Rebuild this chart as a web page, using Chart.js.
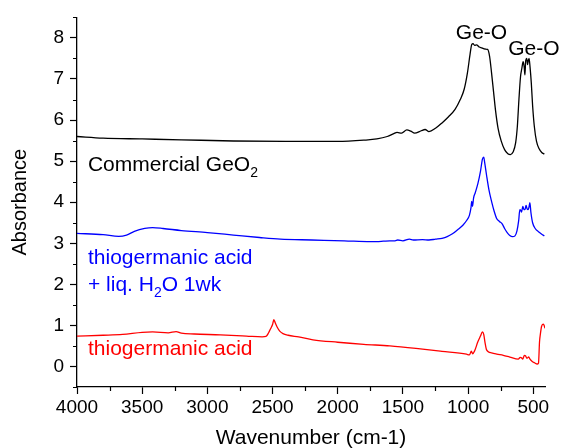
<!DOCTYPE html>
<html>
<head>
<meta charset="utf-8">
<title>FTIR spectra</title>
<script src="https://cdn.jsdelivr.net/npm/chart.js@4.4.1/dist/chart.umd.min.js"></script>
<style>
  body { margin: 0; background: #fff; }
  #wrap { width: 561px; height: 448px; }
</style>
</head>
<body>
<div id="wrap"><canvas id="ftir" width="561" height="448"></canvas></div>
<script>
// wavenumbers (cm-1) and absorbance, per curve
const geo2Wn  = [4000, 3800, 3500, 3200, 2800, 2400, 2000, 1800, 1700, 1620, 1570, 1545, 1510, 1470, 1440, 1410, 1360, 1330, 1300, 1250, 1200, 1150, 1100, 1060, 1030, 1005, 985, 972, 962, 950, 935, 915, 895, 870, 850, 835, 820, 805, 790, 770, 745, 720, 695, 675, 655, 635, 622, 610, 598, 588, 578, 570, 564, 558, 550, 544, 538, 532, 525, 515, 505, 492, 475, 455, 435, 415];
const geo2Abs = [5.60, 5.56, 5.54, 5.52, 5.49, 5.48, 5.48, 5.51, 5.54, 5.60, 5.67, 5.70, 5.68, 5.76, 5.73, 5.68, 5.74, 5.77, 5.72, 5.80, 5.93, 6.08, 6.26, 6.50, 6.75, 7.15, 7.60, 7.84, 7.86, 7.82, 7.83, 7.78, 7.76, 7.73, 7.72, 7.55, 7.15, 6.70, 6.25, 5.80, 5.48, 5.28, 5.18, 5.16, 5.22, 5.45, 5.85, 6.50, 7.05, 7.25, 7.42, 7.30, 7.10, 7.45, 7.50, 7.35, 7.45, 7.50, 7.30, 6.90, 6.35, 5.85, 5.48, 5.30, 5.21, 5.17];

const wetWn  = [4000, 3800, 3680, 3620, 3560, 3480, 3420, 3340, 3200, 3000, 2800, 2600, 2440, 2200, 1950, 1750, 1700, 1650, 1600, 1560, 1540, 1500, 1450, 1420, 1350, 1300, 1250, 1200, 1160, 1120, 1080, 1040, 1010, 990, 978, 972, 966, 958, 945, 925, 905, 890, 880, 872, 858, 840, 820, 800, 782, 760, 740, 720, 700, 680, 660, 640, 625, 612, 603, 596, 590, 580, 572, 563, 555, 548, 540, 533, 526, 518, 505, 485, 460, 435, 415];
const wetAbs = [3.24, 3.21, 3.17, 3.20, 3.29, 3.36, 3.38, 3.36, 3.31, 3.26, 3.20, 3.14, 3.10, 3.08, 3.06, 3.04, 3.04, 3.05, 3.06, 3.06, 3.08, 3.06, 3.10, 3.08, 3.09, 3.08, 3.10, 3.12, 3.16, 3.23, 3.33, 3.44, 3.56, 3.68, 3.86, 4.02, 3.90, 4.10, 4.23, 4.45, 4.75, 5.05, 5.10, 4.95, 4.65, 4.30, 4.02, 3.78, 3.61, 3.53, 3.48, 3.36, 3.26, 3.19, 3.16, 3.18, 3.30, 3.55, 3.82, 3.80, 3.76, 3.90, 3.82, 3.83, 3.92, 3.84, 3.82, 3.88, 3.99, 3.75, 3.50, 3.36, 3.28, 3.22, 3.18];

const acidWn  = [4000, 3800, 3650, 3500, 3420, 3300, 3240, 3200, 3100, 2900, 2700, 2580, 2550, 2530, 2515, 2500, 2490, 2478, 2465, 2445, 2420, 2380, 2300, 2190, 2000, 1800, 1600, 1400, 1200, 1012, 990, 975, 965, 950, 925, 905, 890, 880, 870, 860, 845, 820, 780, 730, 680, 615, 600, 590, 581, 568, 560, 548, 535, 525, 510, 490, 470, 460, 452, 445, 436, 425, 418, 410];
const acidAbs = [0.74, 0.76, 0.78, 0.83, 0.84, 0.82, 0.85, 0.81, 0.79, 0.77, 0.74, 0.72, 0.73, 0.82, 0.92, 1.02, 1.14, 1.05, 0.96, 0.86, 0.80, 0.76, 0.72, 0.65, 0.59, 0.54, 0.50, 0.44, 0.37, 0.30, 0.28, 0.37, 0.31, 0.38, 0.60, 0.74, 0.84, 0.78, 0.58, 0.42, 0.36, 0.33, 0.30, 0.27, 0.23, 0.18, 0.22, 0.21, 0.18, 0.27, 0.26, 0.20, 0.23, 0.18, 0.13, 0.09, 0.06, 0.08, 0.60, 0.80, 0.98, 1.03, 1.01, 0.93];

const xTicks = [4000, 3500, 3000, 2500, 2000, 1500, 1000, 500];
const xMinor = [3750, 3250, 2750, 2250, 1750, 1250, 750];
const yTicks = [0, 1, 2, 3, 4, 5, 6, 7, 8];
const yMinor = [-0.5, 0.5, 1.5, 2.5, 3.5, 4.5, 5.5, 6.5, 7.5, 8.5];

// text on the plot: [wavenumber, absorbance, colour, pieces]  (pieces: [text, isSubscript])
const notes = [
  [3916, 4.77, '#000000', [['Commercial GeO', false], ['2', true]]],
  [3916, 2.49, '#0000ff', [['thiogermanic acid', false]]],
  [3916, 1.84, '#0000ff', [['+ liq. H', false], ['2', true], ['O 1wk', false]]],
  [3916, 0.28, '#ff0000', [['thiogermanic acid', false]]],
  [1094, 7.97, '#000000', [['Ge-O', false]]],
  [692, 7.59, '#000000', [['Ge-O', false]]]
];

const FONT = '"Liberation Sans", Arial, sans-serif';

function toPoints(wn, abs) {
  return wn.map((w, i) => ({ x: w, y: abs[i] }));
}

// kleine tussenstreepjes op de assen
const minorTicks = {
  id: 'minorTicks',
  afterDraw(chart) {
    const { ctx, scales: { x, y }, chartArea } = chart;
    ctx.save();
    ctx.strokeStyle = '#000';
    ctx.lineWidth = 1.2;
    ctx.beginPath();
    xMinor.forEach(v => {
      const px = Math.round(x.getPixelForValue(v)) + 0.5;
      ctx.moveTo(px, chartArea.bottom);
      ctx.lineTo(px, chartArea.bottom + 4);
    });
    yMinor.forEach(v => {
      const py = Math.round(y.getPixelForValue(v)) + 0.5;
      ctx.moveTo(chartArea.left, py);
      ctx.lineTo(chartArea.left - 4, py);
    });
    ctx.stroke();
    ctx.restore();
  }
};

const plotNotes = {
  id: 'plotNotes',
  afterDatasetsDraw(chart) {
    const { ctx, scales: { x, y } } = chart;
    ctx.save();
    ctx.textBaseline = 'alphabetic';
    ctx.textAlign = 'left';
    notes.forEach(([w, a, col, pieces]) => {
      let px = x.getPixelForValue(w);
      const py = y.getPixelForValue(a);
      ctx.fillStyle = col;
      pieces.forEach(([txt, sub]) => {
        ctx.font = (sub ? '14px ' : '21px ') + FONT;
        ctx.fillText(txt, px, sub ? py + 6 : py);
        px += ctx.measureText(txt).width;
      });
    });
    ctx.restore();
  }
};

const lineStyle = { borderWidth: 1.3, pointRadius: 0, fill: false, cubicInterpolationMode: 'monotone' };

new Chart(document.getElementById('ftir').getContext('2d'), {
  type: 'line',
  data: {
    datasets: [
      Object.assign({ label: 'Commercial GeO2', data: toPoints(geo2Wn, geo2Abs), borderColor: '#000000' }, lineStyle),
      Object.assign({ label: 'thiogermanic acid + liq. H2O 1wk', data: toPoints(wetWn, wetAbs), borderColor: '#0000ff' }, lineStyle),
      Object.assign({ label: 'thiogermanic acid', data: toPoints(acidWn, acidAbs), borderColor: '#ff0000' }, lineStyle)
    ]
  },
  options: {
    responsive: false,
    animation: false,
    layout: { padding: { top: 11, right: 16, left: 0, bottom: 0 } },
    plugins: { legend: { display: false }, tooltip: { enabled: false } },
    scales: {
      x: {
        type: 'linear',
        reverse: true,
        min: 410,
        max: 4000,
        afterBuildTicks: s => { s.ticks = xTicks.map(v => ({ value: v })); },
        afterFit: s => { s.height = 61; },
        border: { display: true, color: '#000', width: 1.3 },
        grid: { drawOnChartArea: false, drawTicks: true, tickLength: 7, color: '#000', tickWidth: 1.2 },
        ticks: { color: '#000', font: { family: FONT, size: 19 }, padding: 2, maxRotation: 0, callback: v => String(v) },
        title: { display: true, text: 'Wavenumber (cm-1)', color: '#000', font: { family: FONT, size: 21 }, padding: { top: 0, bottom: -3 } }
      },
      y: {
        type: 'linear',
        min: -0.5,
        max: 8.5,
        afterBuildTicks: s => { s.ticks = yTicks.map(v => ({ value: v })); },
        afterFit: s => { s.width = 77; },
        border: { display: true, color: '#000', width: 1.3 },
        grid: { drawOnChartArea: false, drawTicks: true, tickLength: 7, color: '#000', tickWidth: 1.2 },
        ticks: { color: '#000', font: { family: FONT, size: 19 }, padding: 6, callback: v => String(v) },
        title: { display: true, text: 'Absorbance', color: '#000', font: { family: FONT, size: 20 }, padding: { top: 8, bottom: 0 } }
      }
    }
  },
  plugins: [minorTicks, plotNotes]
});
</script>
</body>
</html>
